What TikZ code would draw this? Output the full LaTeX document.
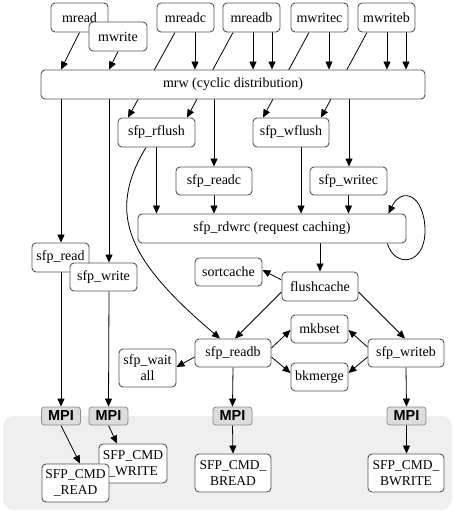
\documentclass[tikz,border=0pt]{standalone}
\usepackage{fontspec}
\setmainfont{Liberation Serif}
\newfontfamily\mpifont{Liberation Sans}
\usetikzlibrary{arrows.meta}
\pgfdeclarelayer{bg}
\pgfdeclarelayer{edges}
\pgfsetlayers{bg,edges,main}
\definecolor{nodeborder}{HTML}{555555}
\definecolor{mpifill}{HTML}{DCDCDC}
\definecolor{mpiborder}{HTML}{8C8C8C}
\definecolor{clusterfill}{HTML}{EFEFEF}
\tikzset{
  box/.style={draw=nodeborder, line width=0.9pt, fill=white, rounded corners=4pt,
    inner sep=0pt, align=center, font=\fontsize{14}{14}\selectfont},
  mpi/.style={draw=mpiborder, line width=0.8pt, fill=mpifill, rounded corners=3pt,
    inner sep=0pt, minimum width=39pt, minimum height=18pt,
    font=\mpifont\bfseries\fontsize{14.5}{14.5}\selectfont},
  edge/.style={draw=black, line width=0.8pt, -{Triangle[length=8pt,width=7pt]}},
  plain/.style={draw=black, line width=0.8pt},
}
\begin{document}
\begin{tikzpicture}[x=1pt,y=-1pt]
\useasboundingbox (0,0) rectangle (455,515);
\begin{pgfonlayer}{bg}
  \fill[clusterfill, rounded corners=11pt] (3,416) rectangle (452,510);
\end{pgfonlayer}

% top row
\node[box, minimum width=57pt, minimum height=29pt] (mread) at (79.5,17.5) {mread};
\node[box, minimum width=58pt, minimum height=29pt] (mwrite) at (118,36.5) {mwrite};
\node[box, minimum width=57pt, minimum height=29pt] (mreadc) at (185.5,17.5) {mreadc};
\node[box, minimum width=57pt, minimum height=29pt] (mreadb) at (251.5,17.5) {mreadb};
\node[box, minimum width=57pt, minimum height=29pt] (mwritec) at (319.5,17.5) {mwritec};
\node[box, minimum width=57pt, minimum height=29pt] (mwriteb) at (386.5,17.5) {mwriteb};

\node[box, minimum width=384pt, minimum height=29pt] (mrw) at (233,84.5) {mrw (cyclic distribution)};

\node[box, minimum width=77pt, minimum height=29pt] (rflush) at (156.5,132.5) {sfp\_rflush};
\node[box, minimum width=76pt, minimum height=29pt] (wflush) at (291,132.5) {sfp\_wflush};
\node[box, minimum width=76pt, minimum height=28pt] (readc) at (214,181) {sfp\_readc};
\node[box, minimum width=77pt, minimum height=28pt] (writec) at (348.5,181) {sfp\_writec};
\node[box, minimum width=268pt, minimum height=29pt] (rdwrc) at (272,228.5) {sfp\_rdwrc (request caching)};

\node[box, minimum width=57pt, minimum height=29pt] (read) at (60.5,257.5) {sfp\_read};
\node[box, minimum width=67pt, minimum height=28pt] (write) at (103.5,277) {sfp\_write};

\node[box, minimum width=67pt, minimum height=28pt] (sortcache) at (228.5,272) {sortcache};
\node[box, minimum width=76pt, minimum height=29pt] (flushcache) at (320,286.5) {flushcache};
\node[box, minimum width=57pt, minimum height=28pt] (mkbset) at (319.5,329) {mkbset};
\node[box, minimum width=57pt, minimum height=28pt] (bkmerge) at (319.5,377) {bkmerge};
\node[box, minimum width=76pt, minimum height=28pt] (readb) at (233,353) {sfp\_readb};
\node[box, minimum width=76pt, minimum height=28pt] (writeb) at (406,353) {sfp\_writeb};
\node[box, minimum width=57pt, minimum height=38pt, font=\fontsize{14}{16}\selectfont] (waitall) at (147.5,368) {sfp\_wait\\all};

\node[mpi] (mpi1) at (61,416) {MPI};
\node[mpi] (mpi2) at (108.5,416) {MPI};
\node[mpi] (mpi3) at (232.5,416) {MPI};
\node[mpi] (mpi4) at (406.5,416) {MPI};

\node[box, minimum width=68pt, minimum height=39pt, font=\fontsize{13.5}{16}\selectfont] (cmdwrite) at (133,463.5) {SFP\_CMD\\\_WRITE};
\node[box, minimum width=67pt, minimum height=38pt, font=\fontsize{13.5}{16}\selectfont] (cmdread) at (75.5,483) {SFP\_CMD\\\_READ};
\node[box, minimum width=76pt, minimum height=38pt, font=\fontsize{13.5}{16}\selectfont] (cmdbread) at (233,473) {SFP\_CMD\_\\BREAD};
\node[box, minimum width=76pt, minimum height=38pt, font=\fontsize{13.5}{16}\selectfont] (cmdbwrite) at (406,473) {SFP\_CMD\_\\BWRITE};

\begin{pgfonlayer}{edges}
  % into mrw
  \draw[edge] (mread.south) -- ([xshift=-172pt]mrw.north);
  \draw[edge] (mwrite.south) -- ([xshift=-124pt]mrw.north);
  \draw[edge] ([xshift=9.5pt]mreadc.south) -- ([xshift=-38pt]mrw.north);
  \draw[edge] ([xshift=1.5pt]mreadb.south) -- ([xshift=20pt]mrw.north);
  \draw[edge] ([xshift=20.5pt]mreadb.south) -- ([xshift=39pt]mrw.north);
  \draw[edge] ([xshift=9.5pt]mwritec.south) -- ([xshift=96pt]mrw.north);
  \draw[edge] ([xshift=0.5pt]mwriteb.south) -- ([xshift=154pt]mrw.north);
  \draw[edge] ([xshift=19.5pt]mwriteb.south) -- ([xshift=173pt]mrw.north);
  % through mrw to flush
  \draw[edge] ([xshift=-10.5pt]mreadc.south) -- ([xshift=-28.5pt]rflush.north);
  \draw[edge] ([xshift=-18.5pt]mreadb.south) -- ([xshift=30.5pt]rflush.north);
  \draw[edge] ([xshift=-10.5pt]mwritec.south) -- ([xshift=-28pt]wflush.north);
  \draw[edge] ([xshift=-19.5pt]mwriteb.south) -- ([xshift=30pt]wflush.north);
  % out of mrw
  \draw[edge] ([xshift=-172pt]mrw.south) -- ([xshift=0.5pt]read.north);
  \draw[edge] ([xshift=-124pt]mrw.south) -- ([xshift=5.5pt]write.north);
  \draw[edge] ([xshift=-19pt]mrw.south) -- (readc.north);
  \draw[edge] ([xshift=116pt]mrw.south) -- ([xshift=0.5pt]writec.north);
  % into rdwrc
  \draw[edge] (rflush.south) -- ([xshift=-115.5pt]rdwrc.north);
  \draw[edge] (readc.south) -- ([xshift=-58pt]rdwrc.north);
  \draw[edge] ([xshift=10pt]wflush.south) -- ([xshift=29pt]rdwrc.north);
  \draw[edge] (writec.south) -- ([xshift=76.5pt]rdwrc.north);
  \draw[edge] ([xshift=-19pt]rdwrc.south east) .. controls (394,268) and (426,266) .. (425,229)
     .. controls (424,195) and (402,186) .. ([xshift=-18pt]rdwrc.north east);
  % rflush to readb
  \draw[edge] ([xshift=-10.5pt]rflush.south) .. controls (105,215) and (130,262) .. ([xshift=-13pt]readb.north);
  % flushcache
  \draw[edge] (rdwrc.south -| flushcache.north) -- (flushcache.north);
  \draw[edge] ([yshift=6.5pt]flushcache.west) -- ([yshift=2pt]sortcache.east);
  \draw[edge] ([yshift=-5.5pt]flushcache.west) -- ([xshift=2pt]readb.north);
  \draw[edge] ([yshift=-5.5pt]flushcache.east) -- ([xshift=-1pt]writeb.north);
  % readb / writeb
  \draw[edge] ([yshift=5pt]readb.east) -- ([yshift=-1pt]mkbset.west);
  \draw[edge] ([yshift=-4pt]readb.east) -- ([yshift=4pt]bkmerge.west);
  \draw[edge] ([yshift=6pt]writeb.west) -- ([yshift=-1pt]mkbset.east);
  \draw[edge] ([yshift=-4pt]writeb.west) -- ([yshift=4pt]bkmerge.east);
  \draw[edge] ([yshift=-4pt]readb.west) -- ([yshift=1pt]waitall.east);
  % to MPI
  \draw[edge] ([xshift=0.5pt]read.south) -- (mpi1.north);
  \draw[edge] ([xshift=5.5pt]write.south) -- (mpi2.north);
  \draw[edge] (readb.south) -- (mpi3.north);
  \draw[edge] (writeb.south) -- (mpi4.north);
  % MPI to commands
  \draw[edge] (mpi1.south) -- ([xshift=4.5pt]cmdread.north);
  \draw[edge] (mpi2.south) -- ([xshift=-16pt]cmdwrite.north);
  \draw[edge] (mpi3.south) -- (cmdbread.north);
  \draw[edge] (mpi4.south) -- ([xshift=0.5pt]cmdbwrite.north);
\end{pgfonlayer}
\end{tikzpicture}
\end{document}
